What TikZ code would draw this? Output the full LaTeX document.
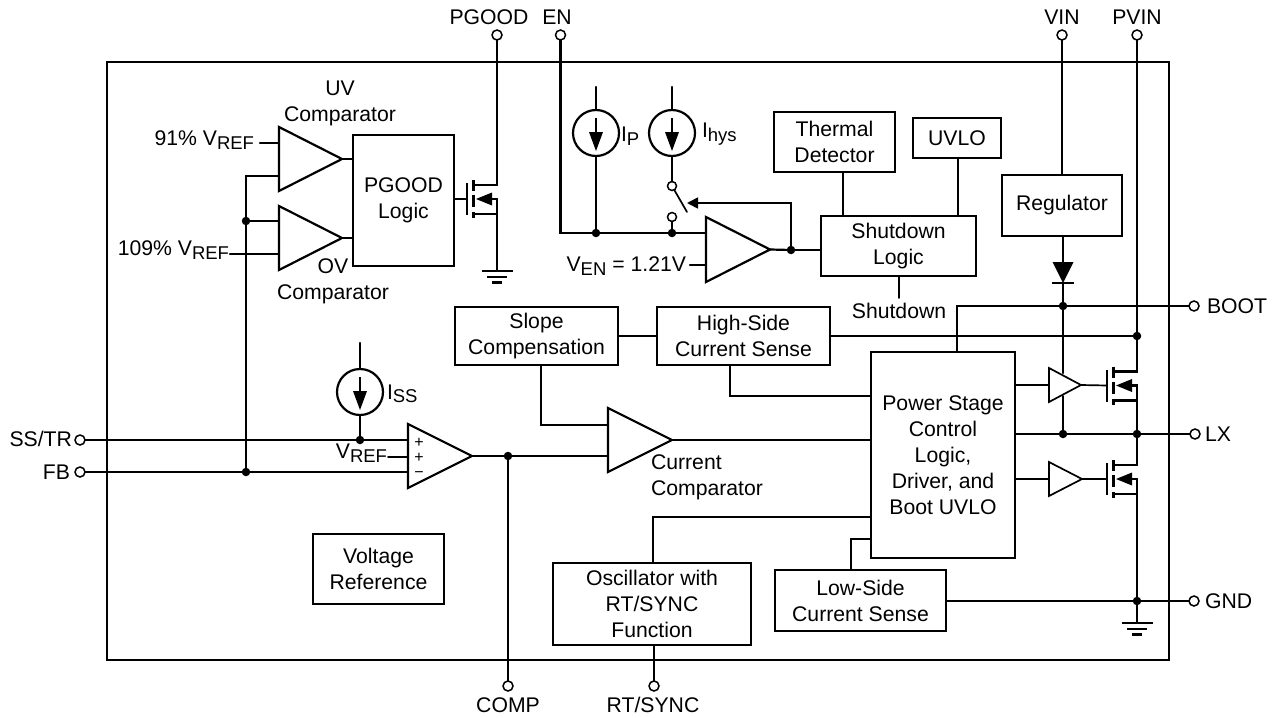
\documentclass[tikz,border=0pt]{standalone}
\usepackage{fontspec}
\usetikzlibrary{arrows.meta}
\setmainfont{Liberation Sans}
\newcommand{\subt}[1]{\raisebox{-0.32ex}{\fontsize{18.5}{20}\selectfont #1}}
\tikzset{
  x=1pt,y=-1pt,
  every node/.style={font=\fontsize{21.2}{26}\selectfont,inner sep=0pt,outer sep=0pt},
  wire/.style={line width=1.7pt,line cap=round,line join=miter},
  hv/.style={line width=2.2pt,line cap=round,line join=miter},
  boxn/.style={draw,line width=1.6pt,align=center},
  pinn/.style={circle,draw,line width=1.5pt,fill=white,minimum size=10pt},
  dotn/.style={circle,fill=black,minimum size=8.5pt},
  srcn/.style={circle,draw,line width=2.2pt,minimum size=46pt},
  txt/.style={align=center},
}
\newcommand{\bx}[6]{\node[boxn,minimum width={(#4-#2)*1pt},minimum height={(#5-#3)*1pt}] (#1) at ({(#2+#4)/2},{(#3+#5)/2}) {#6};}
\newcommand{\amp}[6]{\coordinate (#1-tip) at (#5,{(#3+#4)/2}); \draw[#6,line join=miter] (#2,#3) -- (#2,#4) -- (#1-tip) -- cycle;}
\newcommand{\fet}[3]{\begin{scope}[shift={(#2,#3)}]
  \coordinate (#1-g) at (0,0); \coordinate (#1-d) at (30,-14); \coordinate (#1-s) at (30,15); \coordinate (#1-b) at (30,0);
  \draw[hv,line cap=butt] (0,-16) -- (0,16);
  \draw[hv,line cap=butt] (6.5,-19) -- (6.5,-8) (6.5,-4) -- (6.5,8) (6.5,13) -- (6.5,19);
  \draw[hv,line cap=butt] (6.5,-14) -- (31,-14) (6.5,15) -- (30,15) (24,0) -- (31,0);
  \fill (9,0) -- (25,-6.5) -- (25,6.5) -- cycle;
\end{scope}}
\newcommand{\gnd}[2]{\draw[hv,line cap=butt] (#1-15.5,#2) -- (#1+15.5,#2) (#1-10,#2+6) -- (#1+10,#2+6) (#1-5,#2+11.5) -- (#1+5,#2+11.5);}
\newcommand{\srcarrow}[2]{\draw[hv,line cap=butt] (#1,#2-15) -- (#1,#2); \fill (#1-7,#2-1) -- (#1+7,#2-1) -- (#1,#2+18) -- cycle;}
\begin{document}
\begin{tikzpicture}
\useasboundingbox (0,0) rectangle (1273,717);
% frame
\node[draw,line width=1.8pt,minimum width=1062pt,minimum height=598pt] (frame) at (638,361) {};
% boxes
\bx{pgl}{353}{135}{454}{266}{\raisebox{-3pt}{PGOOD}\\\raisebox{-3pt}{Logic}}
\bx{therm}{774}{112}{895}{172}{Thermal\\Detector}
\bx{uvlo}{913}{118}{1001}{158}{UVLO}
\bx{reg}{1002}{175}{1122}{236}{\raisebox{-2pt}{Regulator}}
\bx{shut}{821}{216}{976}{276}{Shutdown\\Logic}
\bx{slope}{455}{307}{618}{365}{Slope\\Compensation}
\bx{hs}{657}{307}{830}{365}{High-Side\\Current Sense}
\bx{pwr}{871}{352}{1015}{558}{Power Stage\\Control\\Logic,\\Driver, and\\Boot UVLO}
\bx{vref}{313}{534}{444}{604}{Voltage\\Reference}
\bx{osc}{553}{563}{751}{645}{Oscillator with\\RT/SYNC\\Function}
\bx{ls}{775}{570}{946}{631}{Low-Side\\Current Sense}
% amplifiers
\amp{uv}{279}{127}{191}{342}{hv}
\amp{ov}{279}{206}{270}{342}{hv}
\amp{enc}{706}{217}{282}{770}{hv}
\amp{ea}{408}{424}{488}{472}{hv}
\amp{cc}{608}{408}{472}{672}{hv}
\amp{du}{1049}{368}{402}{1081}{wire}
\amp{dl}{1049}{462}{496}{1082}{wire}
% FETs
\fet{qp}{467}{199}
\fet{qh}{1107}{385.5}
\fet{ql}{1107}{479}
% pins
\node[pinn] (pgood) at (497,35) {};
\node[pinn] (en) at (560.5,35) {};
\node[pinn] (vin) at (1062,35) {};
\node[pinn] (pvin) at (1137,35) {};
\node[pinn] (boot) at (1194,306) {};
\node[pinn] (lx) at (1195,434) {};
\node[pinn] (gnd) at (1194,601) {};
\node[pinn] (sstr) at (80,440) {};
\node[pinn] (fb) at (80,472) {};
\node[pinn] (comp) at (508,686) {};
\node[pinn] (rts) at (654,686) {};
% current sources
\node[srcn] (ip) at (596,133) {};
\node[srcn] (ih) at (672,133) {};
\node[srcn] (iss) at (360,392) {};
\srcarrow{596}{133}
\srcarrow{672}{133}
\srcarrow{360}{392}
\coordinate (iptop) at (596,87);
\coordinate (ihtop) at (672,87);
\coordinate (isstop) at (360,343);
\draw[hv] (iptop) -- (ip.north);
\draw[hv] (ihtop) -- (ih.north);
\draw[hv] (isstop) -- (iss.north);
% dots
\node[dotn] (j1) at (246,221) {};
\node[dotn] (j2) at (246,472) {};
\node[dotn] (j3) at (596,233) {};
\node[dotn] (j4) at (672,233) {};
\node[dotn] (j5) at (791,250) {};
\node[dotn] (j6) at (360,440) {};
\node[dotn] (j7) at (508,456) {};
\node[dotn] (j8) at (1063,306) {};
\node[dotn] (j9) at (1137,336) {};
\node[dotn] (j10) at (1063,434) {};
\node[dotn] (j11) at (1137,434) {};
\node[dotn] (j12) at (1137,601) {};
% switch
\node[pinn,minimum size=9pt] (swt) at (672,186) {};
\node[pinn,minimum size=9pt] (swb) at (672,217) {};
\coordinate (blade) at (687,212);
\draw[wire] (swt) -- (blade);
\draw[hv] (ih.south) -- (swt);
\draw[hv] (swb) -- (j4);
\draw[wire,-{Triangle[length=11pt,width=11pt]}] (j5) -- (791,203) -- (687,203);
% left comparators
\coordinate (l91) at (260,143);
\coordinate (l109) at (230,254);
\draw[hv] (l91) -- (279,143);
\draw[hv] (l109) -- (279,254);
\draw[hv] (279,176) -- (246,176) -- (j1);
\draw[hv] (j1) -- (279,221);
\draw[hv] (j1) -- (j2);
\draw[hv] (uv-tip) -- (pgl.west |- uv-tip);
\draw[hv] (ov-tip) -- (pgl.west |- ov-tip);
\draw[hv] (pgl.east |- qp-g) -- (qp-g);
\draw[hv] (pgood) -- (qp-d);
\coordinate (gp) at (497,271);
\draw[hv] (qp-b) -- (gp);
\gnd{497}{271}
% EN
\draw[hv] (en) -- (en |- j3) -- (j3);
\draw[hv] (ip.south) -- (j3);
\draw[hv] (j3) -- (j4);
\draw[hv] (j4) -- (706,233);
\coordinate (lven) at (690,265);
\draw[hv] (lven) -- (706,265);
\draw[hv] (enc-tip) -- (j5);
\draw[hv] (j5) -- (shut.west |- j5);
% shutdown
\draw[wire] (843,172) -- (843,216);
\draw[wire] (958,158) -- (958,216);
\draw[wire] (899,276) -- (899,298);
% regulator, diode
\draw[hv] (vin) -- (vin |- reg.north);
\draw[hv] (1063,236) -- (1063,262);
\fill (1052.5,262) -- (1073.5,262) -- (1063,283) -- cycle;
\draw[hv,line cap=butt] (1052,283) -- (1074,283);
\draw[hv] (1063,283) -- (j8);
\draw[hv] (j8) -- (1063,373);
\draw[wire] (957,352) -- (957,306) -- (j8);
\draw[wire] (j8) -- (boot);
% PVIN
\draw[wire] (pvin) -- (j9);
\draw[hv] (j9) -- (j9 |- qh-d) -- (qh-d);
\draw[wire] (hs.east |- j9) -- (j9);
\draw[hv] (qh-b) -- (j11);
\draw[hv] (j11) -- (j11 |- ql-d);
\draw[hv] (ql-b) -- (j12);
\draw[hv] (j12) -- (1137,623);
\gnd{1137}{623}
% drivers
\draw[wire] (1015,385) -- (1049,385);
\draw[wire] (1015,479) -- (1049,479);
\draw[wire] (du-tip) -- (qh-g);
\draw[wire] (dl-tip) -- (ql-g);
\draw[wire] (1063,396) -- (j10);
\draw[wire] (1015,434) -- (j10);
\draw[wire] (j10) -- (j11);
\draw[wire] (j11) -- (lx);
\draw[wire] (ls.east |- j12) -- (j12);
\draw[wire] (j12) -- (gnd);
% slope, high side
\draw[wire] (slope.east) -- (hs.west);
\draw[wire] (541,365) -- (541,425) -- (608,425);
\draw[wire] (730,365) -- (730,396) -- (871,396);
% error amp
\draw[hv] (sstr) -- (j6);
\draw[hv] (j6) -- (408,440);
\draw[hv] (iss.south) -- (j6);
\coordinate (lvr) at (388,457);
\draw[wire] (lvr) -- (408,457);
\draw[hv] (fb) -- (j2);
\draw[hv] (j2) -- (408,472);
\draw[hv] (ea-tip) -- (j7);
\draw[hv] (j7) -- (608,456);
\draw[hv] (j7) -- (comp);
\draw[hv] (cc-tip) -- (871,440);
% osc, low side
\draw[wire] (653,563) -- (653,517) -- (871,517);
\draw[wire] (rts) -- (654,645);
\draw[wire] (851,570) -- (851,539) -- (871,539);
% signs
\node (p1) at (419,443) {\fontsize{16}{16}\selectfont +};
\node (p2) at (419,458) {\fontsize{16}{16}\selectfont +};
\node (p3) at (419,475) {\fontsize{16}{16}\selectfont −};
% labels
\node (tpg) at (489,17) {PGOOD};
\node (ten) at (557,17) {EN};
\node (tvin) at (1062,17) {VIN};
\node (tpv) at (1137,17) {PVIN};
\node[anchor=west] (tb) at (1207,306) {BOOT};
\node[anchor=west] (tl) at (1205,434) {LX};
\node[anchor=west] (tg) at (1205,601) {GND};
\node[anchor=east] (tss) at (72,439) {SS/TR};
\node[anchor=east] (tfb) at (70,472) {FB};
\node (tc) at (508,705) {COMP};
\node (trt) at (653,705) {RT/SYNC};
\node[txt] (tuv) at (340,103) {UV\\Comparator};
\node[txt] (tov) at (333,281.5) {OV\\Comparator};
\node[align=left,anchor=west] (tcc) at (651,477) {Current\\Comparator};
\node (tsd) at (899,311) {Shutdown};
\node[anchor=east] (t91) at (254,140) {91\% V\subt{REF}};
\node[anchor=east] (t109) at (229,250) {109\% V\subt{REF}};
\node[anchor=east] (tven) at (686,266) {V\subt{EN} = 1.21V};
\node[anchor=east] (tvr) at (387,453) {V\subt{REF}};
\node[anchor=west] (tip) at (621,136) {I\subt{P}};
\node[anchor=west] (tih) at (702,134) {I\subt{hys}};
\node[anchor=west] (tis) at (387,394) {I\subt{SS}};
\end{tikzpicture}
\end{document}
